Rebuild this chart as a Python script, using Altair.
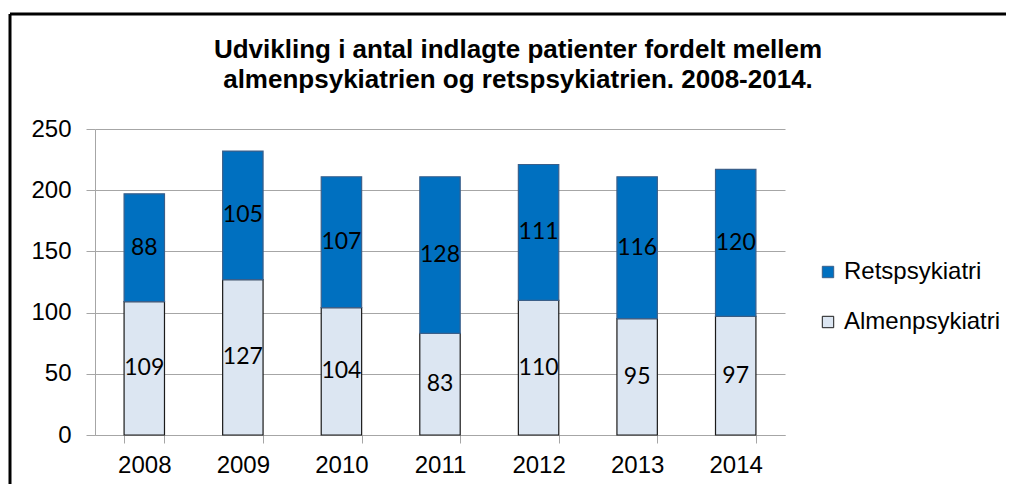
import altair as alt
import pandas as pd

years = ["2008", "2009", "2010", "2011", "2012", "2013", "2014"]
almen = [109, 127, 104, 83, 110, 95, 97]
rets = [88, 105, 107, 128, 111, 116, 120]
series = ["Retspsykiatri", "Almenpsykiatri"]
colors = ["#0070C0", "#DCE6F2"]
title_lines = ["Udvikling i antal indlagte patienter fordelt mellem",
               "almenpsykiatrien og retspsykiatrien. 2008-2014."]

rows = []
for y, a, r in zip(years, almen, rets):
    rows.append({"year": y, "serie": "Almenpsykiatri", "value": a, "ord": 0,
                 "mid": a / 2})
    rows.append({"year": y, "serie": "Retspsykiatri", "value": r, "ord": 1,
                 "mid": a + r / 2})
df = pd.DataFrame(rows)

W, H = 690, 306
PL, PT = 87, 121
PR = 998 - PL - W
PB = 476 - PT - H

yscale = alt.Scale(domain=[0, 250], nice=False)

base = alt.Chart(df)

x_enc = alt.X("year:N", title=None, sort=years,
              scale=alt.Scale(paddingInner=0.59, paddingOuter=0.295),
              axis=alt.Axis(labelAngle=0, labelFontSize=24, labelFont="Liberation Sans",
                            labelColor="#000000", tickBand="extent", tickSize=8,
                            tickColor="#a6a6a6", domainColor="#a6a6a6",
                            labelPadding=10, grid=False))

bars = base.mark_bar(strokeWidth=1.2).encode(
    x=x_enc,
    y=alt.Y("value:Q", stack="zero", title=None, scale=yscale,
            axis=alt.Axis(values=[0, 50, 100, 150, 200, 250], labelFontSize=24,
                          labelFont="Liberation Sans", labelColor="#000000",
                          tickSize=9, tickColor="#a6a6a6", domainColor="#a6a6a6",
                          gridColor="#a6a6a6", labelPadding=15)),
    color=alt.Color("serie:N", title=None,
                    scale=alt.Scale(domain=series, range=colors),
                    legend=alt.Legend(orient="none", legendX=721, legendY=131,
                                      symbolType="square", symbolSize=130,
                                      symbolStrokeColor="#333333", symbolStrokeWidth=1,
                                      labelFontSize=24, labelFont="Liberation Sans",
                                      labelColor="#000000", rowPadding=26,
                                      labelOffset=4)),
    stroke=alt.Stroke("serie:N", scale=alt.Scale(domain=series, range=["#3a5f8a", "#1a1a1a"]),
                      legend=None),
    order=alt.Order("ord:Q"),
)

labels = base.mark_text(font="Lato", fontSize=23, color="#000000", baseline="middle").encode(
    x=alt.X("year:N", sort=years),
    y=alt.Y("mid:Q", scale=yscale),
    text=alt.Text("value:Q"),
)

frame_v = alt.Chart(pd.DataFrame({"a": [0]})).mark_rule(color="#000000", strokeWidth=3, clip=False).encode(
    x=alt.value(-85), y=alt.value(-115), y2=alt.value(500))
frame_h = alt.Chart(pd.DataFrame({"a": [0]})).mark_rule(color="#000000", strokeWidth=3, clip=False).encode(
    x=alt.value(-85), x2=alt.value(1000), y=alt.value(-115))

chart = alt.layer(bars, labels, frame_v, frame_h).properties(
    width=W, height=H,
    autosize=alt.AutoSizeParams(type="none"),
    padding={"left": PL, "top": PT, "right": PR, "bottom": PB},
    title=alt.Title(title_lines, fontSize=26, font="Liberation Sans", fontWeight="bold",
                    color="#000000", anchor="middle", frame="group", dx=78, offset=-80,
                    lineHeight=30),
).configure_view(stroke=None).configure_axis(gridWidth=1)

chart.save("out.html", embed_options={"renderer": "svg", "actions": False})
